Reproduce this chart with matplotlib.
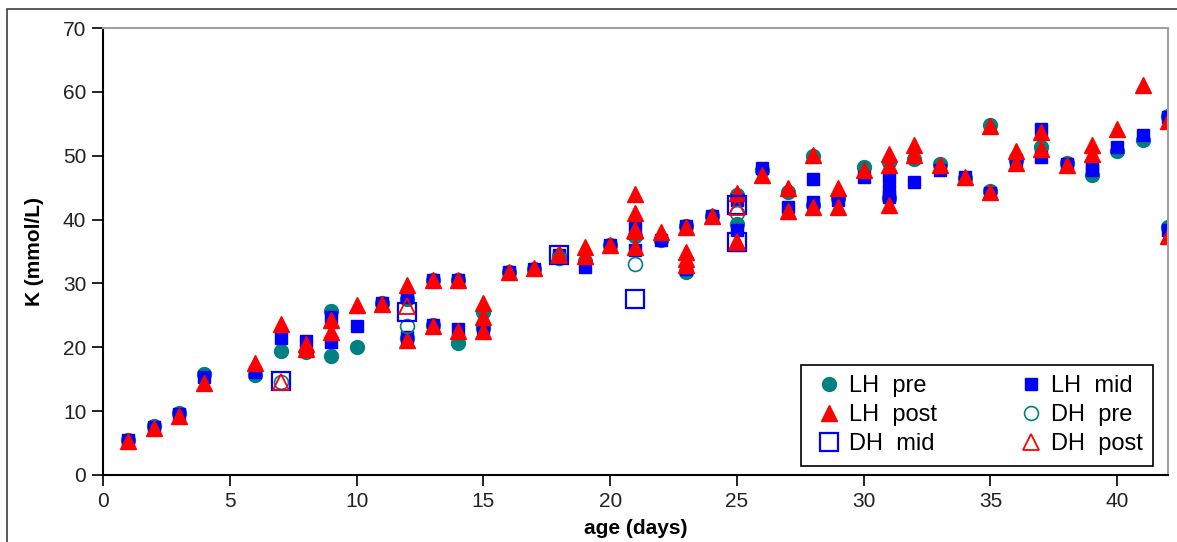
import matplotlib
matplotlib.use("Agg")
import matplotlib.pyplot as plt
from matplotlib.patches import Rectangle

plt.rcParams['font.family'] = ['Liberation Sans', 'DejaVu Sans']

# LH pre (filled teal circles)
lh_pre_x = [1, 2, 3, 4, 6, 7, 8, 9, 9, 10, 11, 12, 12, 13, 13, 14, 14, 15, 15, 16, 17, 18, 19, 20,
            21, 22, 23, 23, 24, 25, 25, 26, 27, 28, 28, 29, 30, 31, 31, 32, 33, 34, 35, 35, 36, 37,
            38, 39, 40, 41, 42, 42]
lh_pre_y = [5.5, 7.6, 9.7, 15.8, 15.7, 19.4, 19.2, 25.7, 18.6, 20.0, 27.0, 27.5, 21.5, 30.5, 23.5,
            30.5, 20.6, 25.5, 23.0, 31.8, 32.3, 34.3, 33.5, 36.0, 37.5, 36.8, 39.0, 31.8, 40.5,
            39.3, 43.8, 47.8, 44.3, 50.0, 42.3, 43.3, 48.3, 49.0, 43.3, 49.5, 48.7, 46.5, 54.8,
            44.5, 49.3, 51.3, 48.8, 47.0, 50.8, 52.5, 56.2, 38.8]

# LH mid (filled blue squares)
lh_mid_x = [1, 2, 3, 4, 6, 7, 8, 9, 9, 10, 11, 12, 12, 13, 13, 14, 14, 15, 16, 17, 18, 19, 20, 21,
            21, 22, 23, 23, 24, 25, 25, 26, 27, 28, 28, 29, 30, 31, 31, 31, 32, 33, 34, 35, 36, 37,
            37, 38, 39, 39, 40, 41, 42, 42]
lh_mid_y = [5.5, 7.5, 9.5, 15.3, 16.2, 21.5, 21.0, 24.8, 20.9, 23.4, 27.0, 27.8, 21.6, 30.6, 23.5,
            30.5, 22.9, 23.0, 31.8, 32.3, 34.5, 32.6, 36.0, 38.7, 35.3, 36.8, 39.0, 32.3, 40.5,
            43.1, 38.4, 48.0, 41.9, 46.4, 42.8, 43.0, 46.7, 46.7, 44.6, 43.6, 45.9, 47.7, 46.7,
            44.2, 49.3, 54.2, 49.8, 48.7, 48.5, 47.7, 51.3, 53.2, 56.0, 38.3]

# LH post (filled red triangles)
lh_post_x = [1, 2, 3, 4, 6, 7, 8, 8, 9, 9, 10, 11, 12, 12, 13, 13, 14, 14, 15, 15, 15, 16, 17, 18,
             19, 19, 20, 21, 21, 21, 21, 22, 23, 23, 23, 23, 24, 25, 25, 26, 27, 27, 28, 28, 29,
             29, 30, 31, 31, 31, 32, 32, 33, 34, 35, 35, 36, 36, 37, 37, 38, 39, 39, 40, 41, 42, 42]
lh_post_y = [5.3, 7.3, 9.3, 14.4, 17.5, 23.6, 20.5, 19.8, 24.2, 22.4, 26.7, 26.8, 29.7, 21.2, 30.5,
             23.4, 30.5, 22.6, 26.9, 24.8, 22.5, 31.8, 32.4, 34.8, 35.7, 34.3, 36.0, 44.0, 41.0,
             38.3, 35.7, 38.0, 38.9, 35.0, 33.9, 32.9, 40.5, 44.2, 36.3, 47.0, 44.9, 41.3, 50.1,
             42.0, 44.9, 42.0, 47.7, 50.3, 48.5, 42.3, 51.7, 50.1, 48.5, 46.7, 54.7, 44.3, 50.8,
             48.8, 53.7, 51.1, 48.5, 51.6, 50.3, 54.2, 61.1, 55.5, 37.5]

# DH series (open markers)
dh_pre_x = [7, 12, 18, 21, 25]
dh_pre_y = [14.5, 23.3, 34.0, 33.0, 41.0]
dh_mid_x = [7, 12, 18, 21, 25, 25]
dh_mid_y = [14.7, 25.6, 34.5, 27.5, 42.3, 36.5]
dh_post_x = [7, 12, 18, 21, 25, 25]
dh_post_y = [14.5, 26.5, 34.5, 38.2, 42.0, 36.5]

teal = '#008080'
blue = '#0000ff'
red = '#ff0000'

fig = plt.figure(figsize=(11.77, 5.42), dpi=100)
ax = fig.add_axes([103 / 1177, 67 / 542, 1065 / 1177, 447 / 542])

# outer chart border
fig.patches.append(Rectangle((7 / 1177, -0.1), 1.2, 0.1 + 533 / 542, transform=fig.transFigure,
                             fill=False, edgecolor='#404040', linewidth=1.2))

h1, = ax.plot(lh_pre_x, lh_pre_y, 'o', ms=10, color=teal, mec=teal, ls='none', label='LH pre')
h2, = ax.plot(lh_mid_x, lh_mid_y, 's', ms=8, color=blue, mec=blue, ls='none', label='LH mid')
h3, = ax.plot(lh_post_x, lh_post_y, '^', ms=12, color=red, mec=red, ls='none', label='LH post')
h4, = ax.plot(dh_pre_x, dh_pre_y, 'o', ms=10, mfc='none', mec=teal, mew=1.2, ls='none',
              label='DH pre')
h5, = ax.plot(dh_mid_x, dh_mid_y, 's', ms=13, mfc='none', mec=blue, mew=1.6, ls='none',
              label='DH mid')
h6, = ax.plot(dh_post_x, dh_post_y, '^', ms=12, mfc='none', mec=red, mew=1.3, ls='none',
              label='DH post')

ax.set_xlim(0, 42)
ax.set_ylim(0, 70)
ax.set_xticks(range(0, 41, 5))
ax.set_yticks(range(0, 71, 10))
ax.tick_params(direction='out', length=8, width=1.2, labelsize=15, pad=4, labelcolor='#222222')
for s in ['left', 'bottom']:
    ax.spines[s].set_color('black')
    ax.spines[s].set_linewidth(1.5)
for s in ['top', 'right']:
    ax.spines[s].set_color('#a0a0a0')
    ax.spines[s].set_linewidth(1.5)

ax.set_ylabel('K (mmol/L)', fontsize=15, fontweight='bold', labelpad=14)
ax.set_xlabel('age (days)', fontsize=15, fontweight='bold', labelpad=6)

leg = ax.legend([h1, h3, h5, h2, h4, h6],
                ['LH  pre', 'LH  post', 'DH  mid', 'LH  mid', 'DH  pre', 'DH  post'],
                ncol=2, loc='lower right', bbox_to_anchor=(0.986, 0.02), fontsize=17,
                fancybox=False, edgecolor='black', framealpha=1, handletextpad=0.1,
                handlelength=1.5, columnspacing=3.2, labelspacing=0.3, borderpad=0.45,
                borderaxespad=0)
leg.get_frame().set_linewidth(1.2)

fig.savefig('out.png', dpi=100)
